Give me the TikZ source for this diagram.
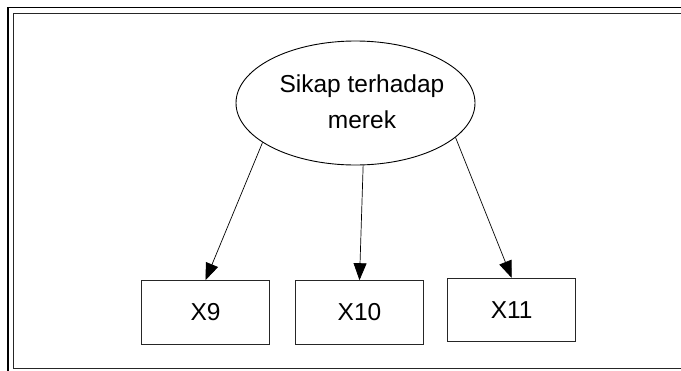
\documentclass[tikz,border=0pt]{standalone}
\usepackage{fontspec}
\setmainfont{Liberation Sans}
\usetikzlibrary{shapes.geometric,arrows.meta}

\tikzset{
  frameline/.style={line width=1.8pt, draw=black},
  construct/.style={ellipse, draw=black, line width=0.9pt, inner sep=0pt,
    minimum width=239pt, minimum height=124pt},
  label24/.style={font=\fontsize{24.5}{36}\selectfont, align=center, inner sep=0pt},
  indicator/.style={rectangle, draw=black!85, line width=0.9pt, inner sep=0pt,
    minimum width=127.6pt, minimum height=63.3pt, font=\fontsize{24.5}{30}\selectfont},
  loading/.style={draw=black, line width=0.7pt,
    -{Triangle[length=17pt,width=13pt]}},
}

\begin{document}
\begin{tikzpicture}[x=1pt, y=-1pt]
  \useasboundingbox (0,0) rectangle (681,370);
  \clip (0,0) rectangle (681,370);

  % double frame, running off the right and bottom edges
  \draw[frameline] (8,7.5) rectangle (700,390);
  \draw[frameline, draw=black!85] (13.5,13.5) rectangle (700,368.5);

  % latent construct
  \node[construct] (sikap) at (355.5,103) {};
  \node[label24] (sikaptext) at (362,102) {Sikap terhadap\\merek};

  % indicators
  \node[indicator] (x9)  at (205.5,312.3) {X9};
  \node[indicator] (x10) at (359.5,312.3) {X10};
  \node[indicator, minimum width=128pt] (x11) at (511.7,310) {X11};

  % loadings
  \draw[loading] (sikap.203.5) -- (x9.north);
  \draw[loading] (sikap.277.8) -- (x10.north);
  \draw[loading] (sikap.341) -- (x11.north);
\end{tikzpicture}
\end{document}
